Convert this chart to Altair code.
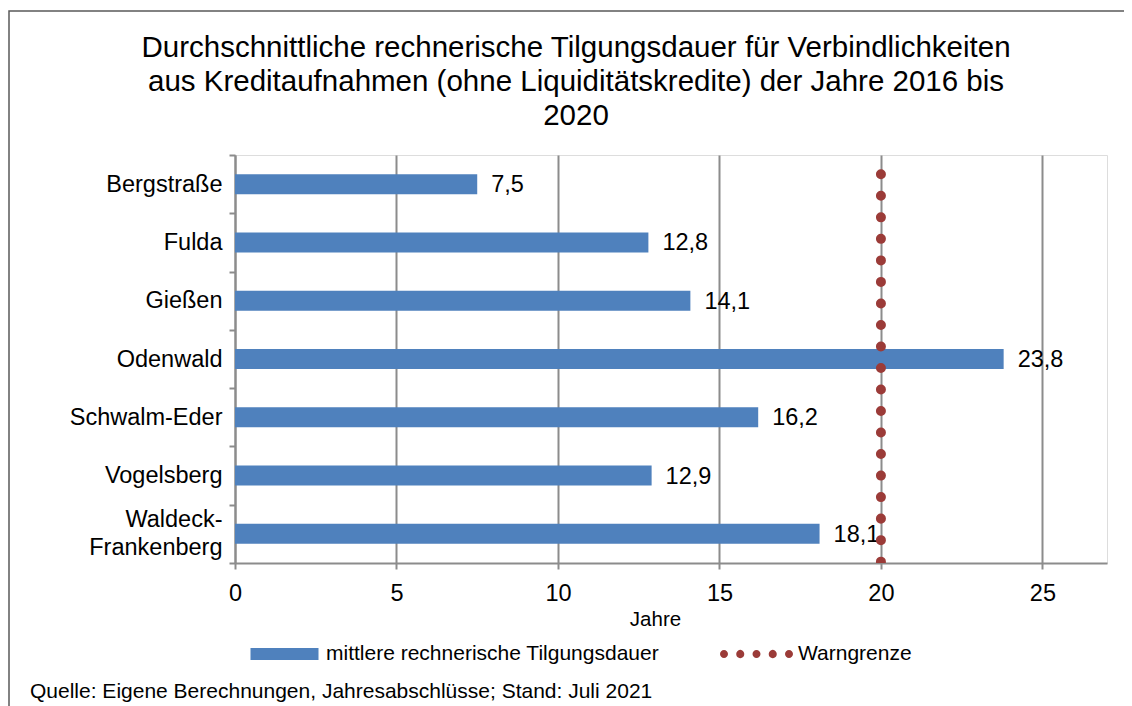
import altair as alt
import pandas as pd

# ---- data ----
categories = ["Bergstraße", "Fulda", "Gießen", "Odenwald", "Schwalm-Eder",
              "Vogelsberg", "Waldeck-Frankenberg"]
values = [7.5, 12.8, 14.1, 23.8, 16.2, 12.9, 18.1]
warn_limit = [20]
series_names = ["mittlere rechnerische Tilgungsdauer", "Warngrenze"]
x_ticks = [0, 5, 10, 15, 20, 25]
title_lines = ["Durchschnittliche rechnerische Tilgungsdauer für Verbindlichkeiten",
               "aus Kreditaufnahmen (ohne Liquiditätskredite) der Jahre 2016 bis",
               "2020"]
x_title = "Jahre"
footer = ["Quelle: Eigene Berechnungen, Jahresabschlüsse; Stand: Juli 2021"]

# ---- styles ----
FONT = "Liberation Sans"
BLUE = "#4F81BD"
RED = "#9B3B38"
GRID = "#8C8C8C"
BG = "#DCE6F2"

bars_df = pd.DataFrame({"kreis": categories, "wert": values,
                        "serie": series_names[0]})
warn_df = pd.DataFrame({"wert": warn_limit})
footer_df = pd.DataFrame({"txt": footer})
frame_df = pd.DataFrame({"k": [0]})

# custom legend symbol paths (unit square -1..1)
rect_path = "M-0.85,-0.15H0.85V0.15H-0.85Z"
r = 0.1
dot_path = ""
for cx in [-0.8125, -0.40625, 0.0, 0.40625, 0.8125]:
    dot_path += (f"M{cx - r:.4f},0A{r},{r} 0 1,0 {cx + r:.4f},0"
                 f"A{r},{r} 0 1,0 {cx - r:.4f},0Z")
shape_expr = (f"datum.value == '{series_names[1]}' ? '{dot_path}' : '{rect_path}'")

x_scale = alt.Scale(domain=[0, 27], nice=False, zero=True)
y_scale = alt.Scale(domain=categories, paddingInner=0, paddingOuter=0)

x_enc = alt.X(
    "wert:Q", scale=x_scale,
    axis=alt.Axis(values=x_ticks, grid=True, gridColor=GRID, gridWidth=2,
                  tickSize=6, tickColor=GRID, tickWidth=2,
                  domain=True, domainColor=GRID, domainWidth=2,
                  labelFontSize=23.5, labelFont=FONT, labelColor="black",
                  labelPadding=12, labelFlush=False,
                  title=x_title, titleFont=FONT,
                  titleFontSize=20.5, titleFontWeight="normal",
                  titleColor="black", titleX=420, titleY=46,
                  titleBaseline="top"))
y_enc = alt.Y(
    "kreis:N", sort=categories, scale=y_scale,
    axis=alt.Axis(title=None, tickBand="extent", tickSize=6, tickColor=GRID,
                  tickWidth=2, domain=True, domainColor=GRID, domainWidth=2,
                  labelFontSize=23.5, labelFont=FONT, labelColor="black",
                  labelPadding=7, labelLineHeight=28, labelLimit=0,
                  labelOffset={"condition": {
                      "test": "datum.value == 'Waldeck-Frankenberg'",
                      "value": -14}, "value": 0},
                  labelExpr="datum.label == 'Waldeck-Frankenberg' ? "
                            "['Waldeck-', 'Frankenberg'] : datum.label"))

bars = alt.Chart(bars_df).mark_bar(stroke=None, height=20).encode(
    x=x_enc,
    y=y_enc,
    color=alt.Color(
        "serie:N",
        scale=alt.Scale(domain=series_names, range=[BLUE, RED]),
        legend=alt.Legend(
            title=None, orient="none", legendX=9.5, legendY=459,
            direction="horizontal", symbolSize=6400, padding=0,
            symbolType=alt.ExprRef(expr=shape_expr),
            symbolStrokeWidth=0, symbolOpacity=1,
            labelFont=FONT, labelFontSize=21, labelColor="black",
            labelOffset=1.5, labelLimit=0, columnPadding=57)),
)

labels = alt.Chart(bars_df).transform_calculate(
    lab="replace(format(datum.wert, '.1f'), '.', ',')"
).mark_text(align="left", baseline="middle", dx=14, dy=1, fontSize=23.5,
            font=FONT, color="black").encode(
    x=alt.X("wert:Q", scale=x_scale),
    y=alt.Y("kreis:N", sort=categories, scale=y_scale),
    text="lab:N",
)

warn = alt.Chart(warn_df).mark_rule(
    color=RED, strokeWidth=10, strokeDash=[0.01, 21.51],
    strokeDashOffset=2.22, strokeCap="round", clip=True
).encode(x=alt.X("wert:Q", scale=x_scale))

foot = alt.Chart(footer_df).mark_text(
    align="left", baseline="middle", fontSize=21, font=FONT, color="black"
).encode(x=alt.value(-205), y=alt.value(537), text="txt:N")

frame = alt.Chart(frame_df).mark_rect(
    fill=None, stroke="#595959", strokeWidth=1.5
).encode(x=alt.value(-226), x2=alt.value(1100), y=alt.value(-144),
         y2=alt.value(700))

chart = alt.layer(frame, bars, labels, warn, foot).properties(
    width=872, height=408,
    autosize=alt.AutoSizeParams(type="none"),
    padding={"left": 227, "top": 147, "right": 17, "bottom": 143},
    title=alt.TitleParams(text=title_lines, font=FONT, fontSize=29.5,
                          fontWeight="normal", color="black", lineHeight=34,
                          anchor="middle", frame="group", dx=-95, dy=147,
                          offset=26),
).configure_view(fill=BG, stroke=GRID, strokeWidth=2
).configure(background="white")

chart.save("out.html", embed_options={"renderer": "svg", "actions": False})
